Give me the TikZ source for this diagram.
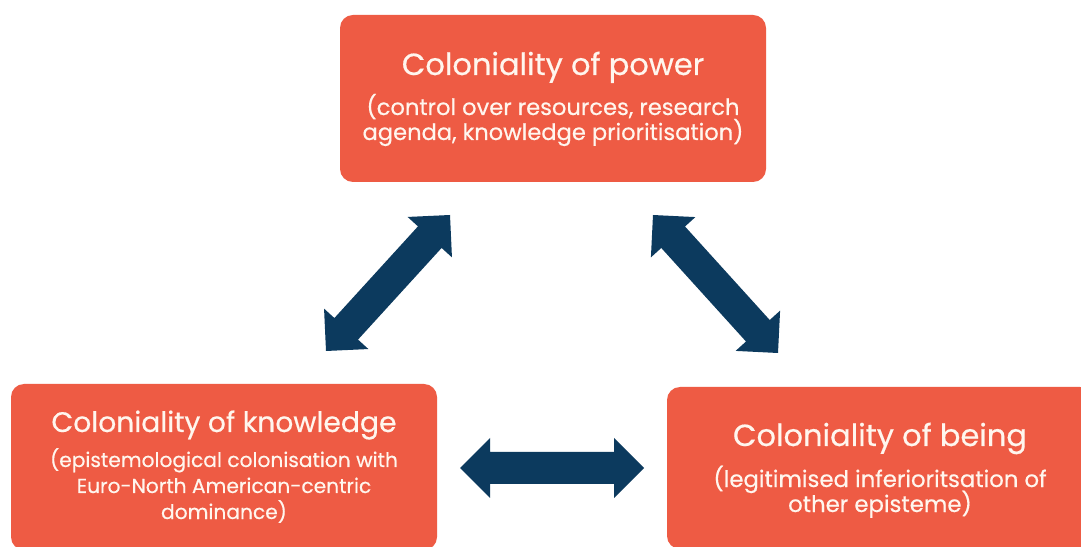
\documentclass[tikz,border=0pt]{standalone}
\usepackage{fontspec}
\setmainfont{Poppins}
\newfontfamily\medfont{Poppins}[FakeBold=0.5]
\usetikzlibrary{calc}
\definecolor{boxred}{RGB}{238,91,68}
\definecolor{navy}{RGB}{12,58,94}
\definecolor{cream}{RGB}{255,246,238}
\newcommand\twoway[2]{%
  \fill[navy] (#1)
    -- ($(#1)!30pt!(#2)!30pt!90:(#2)$)
    -- ($(#1)!30pt!(#2)!16pt!90:(#2)$)
    -- ($(#2)!30pt!(#1)!16pt!-90:(#1)$)
    -- ($(#2)!30pt!(#1)!30pt!-90:(#1)$)
    -- (#2)
    -- ($(#2)!30pt!(#1)!30pt!90:(#1)$)
    -- ($(#2)!30pt!(#1)!16pt!90:(#1)$)
    -- ($(#1)!30pt!(#2)!16pt!-90:(#2)$)
    -- ($(#1)!30pt!(#2)!30pt!-90:(#2)$)
    -- cycle;}
\tikzset{
  box/.style={fill=boxred, rounded corners=13pt, inner sep=0pt, minimum width=426pt},
  txt/.style={text=cream, anchor=base, inner sep=0pt},
}
\begin{document}
\begin{tikzpicture}[x=1pt,y=1pt]
\useasboundingbox (0,0) rectangle (1081,546);
\clip (0,0) rectangle (1081,546);
\fill[white] (0,0) rectangle (1081,546);
% boxes
\node[box, minimum height=167pt] (power) at (553,447.5) {};
\node[box, minimum height=166pt] (knowledge) at (224,79) {};
\node[box, minimum height=162pt] (being) at (880,78) {};
% texts
\node[txt, font=\medfont\fontsize{30.5}{36}\selectfont] (pt) at (553,471) {Coloniality of power};
\node[txt, font=\medfont\fontsize{22.6}{26}\selectfont] (ps1) at (553,431) {(control over resources, research};
\node[txt, font=\medfont\fontsize{22.6}{26}\selectfont] (ps2) at (553,406) {agenda, knowledge prioritisation)};
\node[txt, font=\medfont\fontsize{28.2}{34}\selectfont] (kt) at (224,114) {Coloniality of knowledge};
\node[txt, font=\medfont\fontsize{20.2}{26}\selectfont] (ks1) at (224,79) {(epistemological colonisation with};
\node[txt, font=\medfont\fontsize{20.2}{26}\selectfont] (ks2) at (224,53) {Euro-North American-centric};
\node[txt, font=\medfont\fontsize{20.2}{26}\selectfont] (ks3) at (224,27) {dominance)};
\node[txt, font=\medfont\fontsize{30.5}{36}\selectfont] (bt) at (880,100) {Coloniality of being};
\node[txt, font=\medfont\fontsize{22.8}{26}\selectfont] (bs1) at (880,59) {(legitimised inferioritsation of};
\node[txt, font=\medfont\fontsize{22.8}{26}\selectfont] (bs2) at (880,34) {other episteme)};
% arrow end points
\coordinate (pk1) at (450,331);
\coordinate (pk2) at (326,195);
\coordinate (pb1) at (653,331);
\coordinate (pb2) at (778,193);
\coordinate (kb1) at (460,78);
\coordinate (kb2) at (644,78);
\twoway{pk1}{pk2}
\twoway{pb1}{pb2}
\twoway{kb1}{kb2}
\end{tikzpicture}
\end{document}
